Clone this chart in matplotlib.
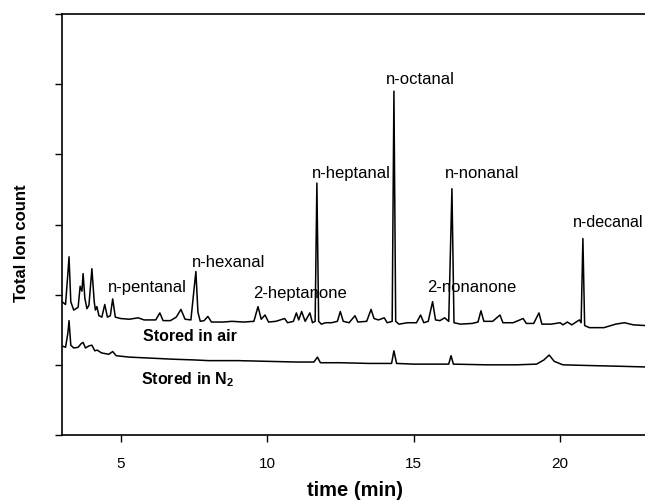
import matplotlib
matplotlib.use("Agg")
import matplotlib.pyplot as plt

plt.rcParams['font.family'] = ['Liberation Sans', 'DejaVu Sans']
plt.rcParams['mathtext.fontset'] = 'custom'
plt.rcParams['mathtext.rm'] = 'Liberation Sans'
plt.rcParams['mathtext.bf'] = 'Liberation Sans:bold'

# ---- data ----
air_time = [3.00, 3.12, 3.20, 3.24, 3.30, 3.40, 3.55, 3.62, 3.68, 3.72, 3.78, 3.85, 3.92, 4.02,
            4.10, 4.14, 4.19, 4.26, 4.36, 4.46, 4.55, 4.65, 4.73, 4.82, 5.0, 5.3, 5.6, 5.8,
            6.2, 6.34, 6.45, 6.7, 6.9, 7.06, 7.2, 7.40, 7.50, 7.57, 7.64, 7.72, 7.85, 7.98,
            8.1, 8.5, 8.8, 9.2, 9.55, 9.69, 9.80, 9.93, 10.05, 10.3, 10.6, 10.7, 10.9, 11.0,
            11.08, 11.18, 11.3, 11.46, 11.55, 11.64, 11.70, 11.76, 11.85, 12.0, 12.2, 12.4,
            12.5, 12.6, 12.8, 13.0, 13.1, 13.4, 13.55, 13.65, 13.8, 14.0, 14.1, 14.27, 14.33,
            14.39, 14.5, 14.8, 15.1, 15.24, 15.35, 15.5, 15.65, 15.75, 15.9, 16.06, 16.2,
            16.31, 16.38, 16.6, 17.0, 17.2, 17.3, 17.4, 17.7, 17.95, 18.05, 18.4, 18.74,
            18.85, 19.1, 19.28, 19.38, 19.7, 20.0, 20.1, 20.25, 20.4, 20.66, 20.72, 20.78,
            20.84, 21.0, 21.5, 21.9, 22.2, 22.5, 22.9]
air_signal = [1.90, 1.86, 2.30, 2.54, 1.90, 1.78, 1.82, 2.12, 2.05, 2.30, 1.95, 1.80, 1.85, 2.37,
              1.90, 1.78, 1.83, 1.70, 1.68, 1.86, 1.68, 1.70, 1.94, 1.68, 1.66, 1.65, 1.67, 1.64,
              1.64, 1.74, 1.63, 1.63, 1.68, 1.79, 1.65, 1.64, 2.05, 2.33, 1.75, 1.62, 1.63, 1.69,
              1.61, 1.61, 1.62, 1.61, 1.62, 1.83, 1.65, 1.71, 1.61, 1.62, 1.66, 1.60, 1.62, 1.74,
              1.64, 1.76, 1.62, 1.74, 1.60, 1.62, 3.59, 1.62, 1.58, 1.60, 1.60, 1.62,
              1.76, 1.62, 1.60, 1.70, 1.61, 1.62, 1.79, 1.66, 1.64, 1.67, 1.60, 1.62, 4.90,
              1.62, 1.58, 1.60, 1.60, 1.71, 1.60, 1.62, 1.90, 1.64, 1.63, 1.67, 1.62,
              3.51, 1.60, 1.58, 1.59, 1.61, 1.77, 1.62, 1.62, 1.71, 1.60, 1.60, 1.66,
              1.59, 1.59, 1.74, 1.58, 1.58, 1.60, 1.57, 1.61, 1.57, 1.64, 1.60, 2.80,
              1.56, 1.53, 1.53, 1.58, 1.60, 1.57, 1.56]

n2_time = [3.00, 3.12, 3.20, 3.24, 3.30, 3.40, 3.55, 3.65, 3.72, 3.80, 3.92, 4.02, 4.12, 4.2,
           4.35, 4.6, 4.73, 4.85, 5.3, 5.8, 6.3, 6.8, 7.5, 8.0, 9.0, 10.0, 11.0, 11.6, 11.72,
           11.82, 12.5, 13.5, 14.25, 14.33, 14.42, 15.0, 16.2, 16.28, 16.36, 17.5, 18.5, 19.2,
           19.45, 19.63, 19.8, 20.1, 21.0, 22.0, 22.9]
n2_signal = [1.27, 1.25, 1.45, 1.63, 1.28, 1.24, 1.25, 1.30, 1.32, 1.24, 1.27, 1.28, 1.20, 1.21,
             1.17, 1.15, 1.19, 1.13, 1.11, 1.10, 1.09, 1.08, 1.07, 1.06, 1.06, 1.05, 1.04, 1.04, 1.11,
             1.03, 1.03, 1.02, 1.02, 1.20, 1.02, 1.01, 1.01, 1.13, 1.01, 1.00, 1.00, 1.01,
             1.07, 1.14, 1.05, 1.00, 0.99, 0.98, 0.97]

peak_labels = ['n-pentanal', 'n-hexanal', '2-heptanone', 'n-heptanal', 'n-octanal',
               '2-nonanone', 'n-nonanal', 'n-decanal']
label_time = [5.93, 8.70, 11.12, 12.86, 15.22, 16.97, 17.34, 20.45]
label_signal = [2.10, 2.46, 2.01, 3.73, 5.06, 2.10, 3.73, 3.03]
label_align = ['center', 'center', 'center', 'center', 'center', 'center', 'center', 'left']
label_size = [12, 12, 12, 12, 12, 12, 12, 11.6]

trace_names = ['Stored in air', r'Stored in N$_{\mathbf{2}}$']
trace_label_time = [7.37, 7.30]
trace_label_signal = [1.40, 0.79]

xticks = [5, 10, 15, 20]
yticks = [0, 1, 2, 3, 4, 5, 6]

# ---- figure ----
fig = plt.figure(figsize=(6.45, 5.04), dpi=100)
ax = fig.add_axes([62 / 645, 69 / 504, 1 - 62 / 645, 421 / 504])

ax.plot(air_time, air_signal, color='black', lw=1.1)
ax.plot(n2_time, n2_signal, color='black', lw=1.1)

for txt, t, v, ha, fs in zip(peak_labels, label_time, label_signal, label_align, label_size):
    ax.text(t, v, txt, ha=ha, va='center', fontsize=fs, clip_on=False)

for txt, t, v in zip(trace_names, trace_label_time, trace_label_signal):
    ax.text(t, v, txt, ha='center', va='center', fontsize=11.5, fontweight='bold')

ax.set_xlim(3, 22.9)
ax.set_ylim(0, 6)
ax.set_xticks(xticks)
ax.set_xticklabels([str(x) for x in xticks], fontsize=11)
ax.set_yticks(yticks)
ax.set_yticklabels([])
ax.tick_params(direction='out', length=5, width=1.0, pad=11)
ax.spines['right'].set_visible(False)
for s in ['left', 'top', 'bottom']:
    ax.spines[s].set_linewidth(1.2)

fig.text(355 / 645, 1 - 490 / 504, 'time (min)', ha='center', va='center',
         fontsize=14.5, fontweight='bold')
fig.text(22 / 645, 1 - 243 / 504, 'Total Ion count', ha='center', va='center',
         rotation=90, fontsize=12, fontweight='bold')

fig.savefig('out.png', dpi=100)
